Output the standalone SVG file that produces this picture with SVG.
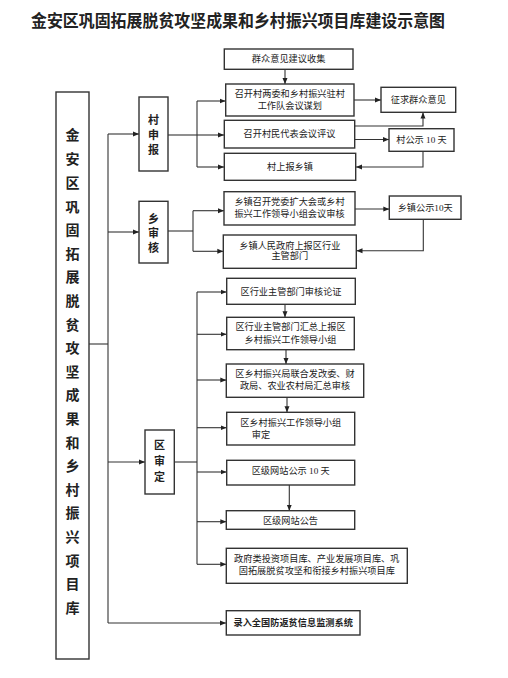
<svg xmlns="http://www.w3.org/2000/svg" width="508" height="678" viewBox="0 0 508 678">
<defs>
<style>
text{font-family:"Liberation Serif","Noto Sans CJK SC",serif;fill:#222;dominant-baseline:central;text-anchor:middle}
.t{font-size:9.2px}
.b{font-weight:bold}
.box{fill:#fff;stroke:#333;stroke-width:1.4}
.ln{fill:none;stroke:#333;stroke-width:1.1}
.ar{fill:none;stroke:#333;stroke-width:1.1;marker-end:url(#ah)}
</style>
<marker id="ah" markerWidth="6" markerHeight="6" refX="6" refY="3" orient="auto" markerUnits="userSpaceOnUse">
<path d="M0,0.5 L6,3 L0,5.5 z" fill="#222"/>
</marker>
</defs>
<rect width="508" height="678" fill="#fff"/>
<text x="238" y="21" font-size="16.5" class="b" textLength="414" lengthAdjust="spacingAndGlyphs">金安区巩固拓展脱贫攻坚成果和乡村振兴项目库建设示意图</text>

<g id="connectors">
<line class="ln" x1="89" y1="344" x2="108" y2="344"/>
<line class="ln" x1="108" y1="134" x2="108" y2="623"/>
<line class="ar" x1="108" y1="134" x2="139" y2="134"/>
<line class="ar" x1="108" y1="232" x2="139" y2="232"/>
<line class="ar" x1="108" y1="462" x2="145" y2="462"/>
<line class="ar" x1="108" y1="623" x2="226" y2="623"/>

<line class="ln" x1="168" y1="135" x2="197" y2="135"/>
<line class="ln" x1="197" y1="101" x2="197" y2="167"/>
<line class="ar" x1="197" y1="101" x2="225.5" y2="101"/>
<line class="ar" x1="197" y1="135" x2="224" y2="135"/>
<line class="ar" x1="197" y1="167" x2="224" y2="167"/>
<line class="ar" x1="285" y1="69.5" x2="285" y2="84"/>
<line class="ar" x1="354" y1="100" x2="381" y2="100"/>
<path class="ar" d="M354.7,126 H423 V112.5"/>
<line class="ar" x1="354.7" y1="139.5" x2="389" y2="139.5"/>
<path class="ar" d="M423,151.3 V167 H356"/>

<line class="ln" x1="168" y1="231" x2="193" y2="231"/>
<line class="ln" x1="193" y1="210.7" x2="193" y2="251.3"/>
<line class="ar" x1="193" y1="210.7" x2="224" y2="210.7"/>
<line class="ar" x1="193" y1="251.3" x2="223.3" y2="251.3"/>
<line class="ar" x1="355" y1="209" x2="389.3" y2="209"/>
<path class="ar" d="M423.3,219.3 V250.7 H356.5"/>

<line class="ln" x1="174.3" y1="462" x2="197" y2="462"/>
<line class="ln" x1="197" y1="292" x2="197" y2="564.3"/>
<line class="ar" x1="197" y1="292" x2="226.5" y2="292"/>
<line class="ar" x1="197" y1="334.3" x2="226.5" y2="334.3"/>
<line class="ar" x1="197" y1="380" x2="226.3" y2="380"/>
<line class="ar" x1="197" y1="427.7" x2="226.5" y2="427.7"/>
<line class="ar" x1="197" y1="472" x2="226.5" y2="472"/>
<line class="ar" x1="197" y1="521.7" x2="226.3" y2="521.7"/>
<line class="ar" x1="197" y1="564.3" x2="226.3" y2="564.3"/>
<line class="ar" x1="285" y1="304.3" x2="285" y2="317.3"/>
<line class="ar" x1="286" y1="349.7" x2="286" y2="364"/>
<line class="ar" x1="287" y1="397.3" x2="287" y2="412.3"/>
<line class="ar" x1="289.3" y1="485" x2="289.3" y2="510.7"/>
</g>

<g id="main">
<rect class="box" x="56" y="92" width="33" height="567"/>
<text x="72.5" y="135.7" font-size="14" class="b">金<tspan x="72.5" dy="23.6">安</tspan><tspan x="72.5" dy="23.6">区</tspan><tspan x="72.5" dy="23.6">巩</tspan><tspan x="72.5" dy="23.6">固</tspan><tspan x="72.5" dy="23.6">拓</tspan><tspan x="72.5" dy="23.6">展</tspan><tspan x="72.5" dy="23.6">脱</tspan><tspan x="72.5" dy="23.6">贫</tspan><tspan x="72.5" dy="23.6">攻</tspan><tspan x="72.5" dy="23.6">坚</tspan><tspan x="72.5" dy="23.6">成</tspan><tspan x="72.5" dy="23.6">果</tspan><tspan x="72.5" dy="23.6">和</tspan><tspan x="72.5" dy="23.6">乡</tspan><tspan x="72.5" dy="23.6">村</tspan><tspan x="72.5" dy="23.6">振</tspan><tspan x="72.5" dy="23.6">兴</tspan><tspan x="72.5" dy="23.6">项</tspan><tspan x="72.5" dy="23.6">目</tspan><tspan x="72.5" dy="23.6">库</tspan></text>
</g>

<g id="cun">
<rect class="box" x="139" y="97" width="29" height="74"/>
<text x="153.5" y="120" font-size="11" class="b">村<tspan x="153.5" dy="15">申</tspan><tspan x="153.5" dy="15">报</tspan></text>
</g>
<g id="xiang">
<rect class="box" x="139" y="201.3" width="29" height="61.7"/>
<text x="153.5" y="218.5" font-size="11" class="b">乡<tspan x="153.5" dy="14.7">审</tspan><tspan x="153.5" dy="14.7">核</tspan></text>
</g>
<g id="qu">
<rect class="box" x="145" y="430" width="29.3" height="64"/>
<text x="159.6" y="445" font-size="11" class="b">区<tspan x="159.6" dy="16">审</tspan><tspan x="159.6" dy="16">定</tspan></text>
</g>

<g id="n1"><rect class="box" x="224.3" y="49" width="128.7" height="20.3"/><text class="t" x="288.6" y="59.2">群众意见建议收集</text></g>
<g id="n2"><rect class="box" x="225.7" y="84" width="128.3" height="32"/><text class="t" x="289.8" y="94.2">召开村两委和乡村振兴驻村</text><text class="t" x="289.8" y="105.8">工作队会议谋划</text></g>
<g id="n3"><rect class="box" x="381" y="87.3" width="74.7" height="25"/><text class="t" x="418.3" y="99.8">征求群众意见</text></g>
<g id="n4"><rect class="box" x="224.3" y="120.3" width="130.4" height="27.7"/><text class="t" x="289.5" y="133.8">召开村民代表会议评议</text></g>
<g id="n5"><rect class="box" x="389" y="128.7" width="65" height="22.6"/><text class="t" x="421.5" y="140">村公示 10 天</text></g>
<g id="n6"><rect class="box" x="224.3" y="153.3" width="131.4" height="27"/><text class="t" x="290" y="167">村上报乡镇</text></g>

<g id="n7"><rect class="box" x="224" y="191.7" width="131" height="33.3"/><text class="t" x="289.5" y="202.4">乡镇召开党委扩大会或乡村</text><text class="t" x="289.5" y="213.6">振兴工作领导小组会议审核</text></g>
<g id="n8"><rect class="box" x="389.3" y="196" width="71.7" height="23.3"/><text class="t" x="425.2" y="207.7">乡镇公示10天</text></g>
<g id="n9"><rect class="box" x="223.3" y="235" width="133" height="33.3"/><text class="t" x="289.8" y="245.5">乡镇人民政府上报区行业</text><text class="t" x="289.8" y="256.2">主管部门</text></g>

<g id="n10"><rect class="box" x="226.7" y="278.3" width="128.6" height="26"/><text class="t" x="291" y="292">区行业主管部门审核论证</text></g>
<g id="n11"><rect class="box" x="226.7" y="317.3" width="127.6" height="32.4"/><text class="t" x="290.5" y="327.2">区行业主管部门汇总上报区</text><text class="t" x="290.5" y="340">乡村振兴工作领导小组</text></g>
<g id="n12"><rect class="box" x="226.3" y="364" width="137.4" height="33.3"/><text class="t" x="295" y="373.8">区乡村振兴局联合发改委、财</text><text class="t" x="295" y="386.2">政局、农业农村局汇总审核</text></g>
<g id="n13"><rect class="box" x="226.7" y="412.3" width="128" height="32.7"/><text class="t" x="290.7" y="422.8">区乡村振兴工作领导小组</text><text class="t" x="261" y="435.4">审定</text></g>
<g id="n14"><rect class="box" x="226.7" y="460.3" width="128" height="24.7"/><text class="t" x="290.7" y="470.8">区级网站公示 10 天</text></g>
<g id="n15"><rect class="box" x="226.3" y="510.7" width="128.4" height="18.6"/><text class="t" x="290.5" y="520.5">区级网站公告</text></g>
<g id="n16"><rect class="box" x="226.3" y="548.3" width="181" height="35"/><text class="t" x="316.8" y="558.8">政府类投资项目库、产业发展项目库、巩</text><text class="t" x="316.8" y="570.8">固拓展脱贫攻坚和衔接乡村振兴项目库</text></g>
<g id="n17"><rect class="box" x="226.3" y="610.7" width="133.7" height="24.3"/><text class="t b" x="293.2" y="623.2" font-size="9">录入全国防返贫信息监测系统</text></g>
</svg>
